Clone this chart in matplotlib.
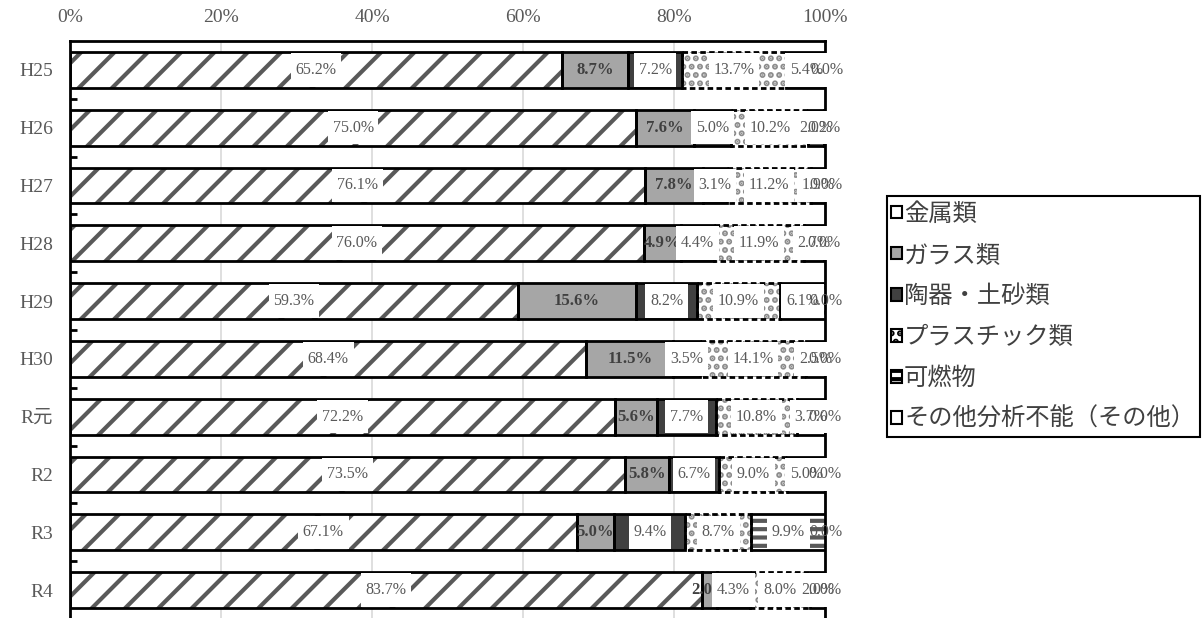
import matplotlib
matplotlib.use('Agg')
import matplotlib.pyplot as plt
from matplotlib.patches import Patch
from matplotlib.path import Path
import numpy as np

years = ['H25', 'H26', 'H27', 'H28', 'H29', 'H30', 'R元', 'R2', 'R3', 'R4']
series = ['金属類', 'ガラス類', '陶器・土砂類', 'プラスチック類', '可燃物', 'その他分析不能（その他）']

metal = [65.2, 75.0, 76.1, 76.0, 59.3, 68.4, 72.2, 73.5, 67.1, 83.7]
glass = [8.7, 7.6, 7.8, 4.9, 15.6, 11.5, 5.6, 5.8, 5.0, 2.0]
ceramic = [7.2, 5.0, 3.1, 4.4, 8.2, 3.5, 7.7, 6.7, 9.4, 4.3]
plastic = [13.7, 10.2, 11.2, 11.9, 10.9, 14.1, 10.8, 9.0, 8.7, 8.0]
burnable = [5.4, 2.0, 1.9, 2.7, 6.1, 2.5, 3.7, 5.0, 9.9, 2.0]
other = [0.0, 0.2, 0.0, 0.0, 0.0, 0.0, 0.0, 0.0, 0.0, 0.0]

values = [metal, glass, ceramic, plastic, burnable, other]

# face, hatch colour, hatch
styles = [
    ('white', '#595959', '/'),
    ('#a6a6a6', '#a6a6a6', None),
    ('#404040', '#404040', None),
    ('white', '#8c8c8c', '..'),
    ('white', '#595959', '--'),
    ('white', 'white', None),
]
plt.rcParams['hatch.linewidth'] = 3.0

serif = ['Liberation Serif', 'Noto Sans CJK JP']
txt_col = '#595959'


# label box: tight left/right, tall enough to cover the bar
def tallbox(x0, y0, width, height, mutation_size):
    px = 0.3 * mutation_size
    py = 0.55 * mutation_size
    x1, y1 = x0 + width + px, y0 + height + py
    x0, y0 = x0 - px, y0 - py
    return Path([(x0, y0), (x1, y0), (x1, y1), (x0, y1), (x0, y0)], closed=True)


fig = plt.figure(figsize=(12.03, 6.18), dpi=100)
ax = fig.add_axes([0.0582, -0.0016, 0.6276, 0.9353])

y = np.arange(len(years))
h = 0.62
left = np.zeros(len(years))
for i, vals in enumerate(values):
    vals = np.array(vals)
    face, hc, hatch = styles[i]
    ax.barh(y, vals, left=left, height=h, color=face, edgecolor=hc,
            linewidth=0, hatch=hatch, zorder=2)
    ls = (0, (2, 1.2)) if i == 3 else '-'
    ax.barh(y, vals, left=left, height=h, fill=False, edgecolor='black',
            linewidth=2, linestyle=ls, zorder=3)
    for j, v in enumerate(vals):
        cx = left[j] + v / 2
        if i == 1:
            ax.text(cx, y[j], f'{v:.1f}%', ha='center', va='center',
                    fontsize=12, fontweight='bold', color='#404040',
                    family=serif, zorder=4)
        elif i == 5:
            ax.text(cx, y[j], f'{v:.1f}%', ha='center', va='center',
                    fontsize=11.5, color=txt_col, family=serif, zorder=4)
        else:
            ax.text(cx, y[j], f'{v:.1f}%', ha='center', va='center',
                    fontsize=11.5, color=txt_col, family=serif, zorder=4,
                    bbox=dict(boxstyle=tallbox, facecolor='white',
                              edgecolor='none'))
    left += vals

ax.set_xlim(0, 100)
ax.set_ylim(len(years) - 0.5, -0.5)
ax.set_xticks(np.arange(0, 101, 20))
ax.set_xticklabels([f'{t}%' for t in range(0, 101, 20)], family=serif,
                   fontsize=14, color=txt_col)
ax.xaxis.tick_top()
ax.tick_params(axis='x', length=0, pad=11)
ax.set_yticks(y)
ax.set_yticklabels(years, family=serif, fontsize=14, color=txt_col)
ax.set_yticks(y[:-1] + 0.5, minor=True)
ax.tick_params(axis='y', which='major', length=0, pad=12)
ax.tick_params(axis='y', which='minor', direction='in', length=5, width=2,
               color='black')
ax.grid(axis='x', color='#d9d9d9', linewidth=1.2, zorder=0)
ax.set_axisbelow(True)
for s in ax.spines.values():
    s.set_linewidth(2)
    s.set_color('black')
ax.spines['bottom'].set_visible(False)

handles = []
for i, name in enumerate(series):
    face, hc, hatch = styles[i]
    handles.append(Patch(facecolor=face, edgecolor='black', linewidth=1.5,
                         hatch=None if i == 0 else hatch, label=name))
leg = fig.legend(handles=handles, loc='upper left',
                 bbox_to_anchor=(0.737, 0.683), bbox_transform=fig.transFigure,
                 borderaxespad=0, prop={'family': 'Noto Sans CJK JP', 'size': 17.5},
                 handlelength=0.42, handleheight=0.42, handletextpad=0.1,
                 labelspacing=0.62, fancybox=False, framealpha=1,
                 edgecolor='black', borderpad=0.2)
leg.get_frame().set_linewidth(1.5)
for t in leg.get_texts():
    t.set_color('#404040')

fig.savefig('out.png', dpi=100)
